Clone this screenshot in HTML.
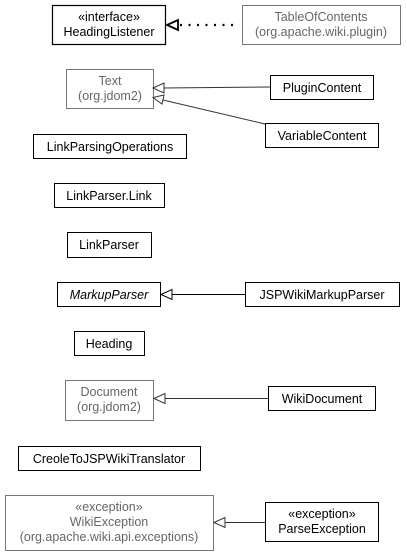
<!DOCTYPE html>
<html><head><style>
html,body{margin:0;padding:0;background:#fff;}
svg{display:block;font-family:"Liberation Sans",Arial,sans-serif;font-size:12.5px;}
</style></head><body>
<svg width="407" height="555" viewBox="0 0 407 555" xmlns="http://www.w3.org/2000/svg">
<g fill="#fff" stroke-width="1">
<rect x="52.5" y="5.5" width="113" height="39" stroke="#000" stroke-width="1.2"/>
<rect x="242.5" y="5.5" width="158" height="39" stroke="#777"/>
<rect x="66.5" y="69.5" width="87" height="39" stroke="#777"/>
<rect x="270.5" y="75.5" width="103" height="24" stroke="#000"/>
<rect x="265.5" y="123.5" width="113" height="24" stroke="#000"/>
<rect x="33.5" y="134.5" width="153" height="24" stroke="#000"/>
<rect x="54.5" y="183.5" width="110" height="24" stroke="#000"/>
<rect x="67.5" y="232.5" width="84" height="25" stroke="#000"/>
<rect x="57.5" y="282.5" width="103" height="24" stroke="#000"/>
<rect x="245.5" y="282.5" width="154" height="24" stroke="#000"/>
<rect x="74.5" y="331.5" width="70" height="24" stroke="#000"/>
<rect x="65.5" y="380.5" width="88" height="40" stroke="#777"/>
<rect x="268.5" y="386.5" width="107" height="24" stroke="#000"/>
<rect x="18.5" y="446.5" width="182" height="24" stroke="#000"/>
<rect x="5.5" y="495.5" width="208" height="55" stroke="#777"/>
<rect x="265.5" y="502.5" width="113" height="39" stroke="#000"/>
</g>
<g stroke="#333" fill="none">
<line x1="180" y1="25" x2="238" y2="25" stroke="#000" stroke-width="2.2" stroke-dasharray="2,6.5"/>
<polygon points="167,25 178,20 178,30" fill="#fff" stroke="#000" stroke-width="1.8"/>
<line x1="163" y1="88" x2="270" y2="87"/>
<polygon points="153,88 164,83 164,93" fill="#fff"/>
<line x1="163" y1="100" x2="265" y2="124"/>
<polygon points="153,97.5 164,95 162,104" fill="#fff"/>
<line x1="171" y1="294.5" x2="245" y2="294.5" stroke="#000"/>
<polygon points="161,294.5 172,289.5 172,299.5" fill="#fff" stroke="#000"/>
<line x1="164" y1="398.5" x2="268" y2="398.5"/>
<polygon points="154,398.5 165,393.5 165,403.5" fill="#fff"/>
<line x1="224" y1="522.5" x2="265" y2="522.5"/>
<polygon points="214,522.5 225,517.5 225,527.5" fill="#fff"/>
</g>
<g text-anchor="middle" fill="#000">
<text x="109" y="21">«interface»</text>
<text x="109" y="36">HeadingListener</text>
<text x="321" y="21" fill="#666">TableOfContents</text>
<text x="321" y="36" fill="#666">(org.apache.wiki.plugin)</text>
<text x="110" y="85" fill="#666">Text</text>
<text x="110" y="100" fill="#666">(org.jdom2)</text>
<text x="322" y="92">PluginContent</text>
<text x="322" y="140">VariableContent</text>
<text x="110" y="151">LinkParsingOperations</text>
<text x="109" y="200">LinkParser.Link</text>
<text x="109" y="249">LinkParser</text>
<text x="109" y="299" font-style="italic">MarkupParser</text>
<text x="322" y="299">JSPWikiMarkupParser</text>
<text x="109" y="348">Heading</text>
<text x="109" y="396" fill="#666">Document</text>
<text x="109" y="411" fill="#666">(org.jdom2)</text>
<text x="322" y="403">WikiDocument</text>
<text x="109" y="463">CreoleToJSPWikiTranslator</text>
<text x="109" y="511" fill="#666">«exception»</text>
<text x="109" y="526" fill="#666">WikiException</text>
<text x="109" y="541" fill="#666">(org.apache.wiki.api.exceptions)</text>
<text x="322" y="518">«exception»</text>
<text x="322" y="533">ParseException</text>
</g>
</svg>
</body></html>
